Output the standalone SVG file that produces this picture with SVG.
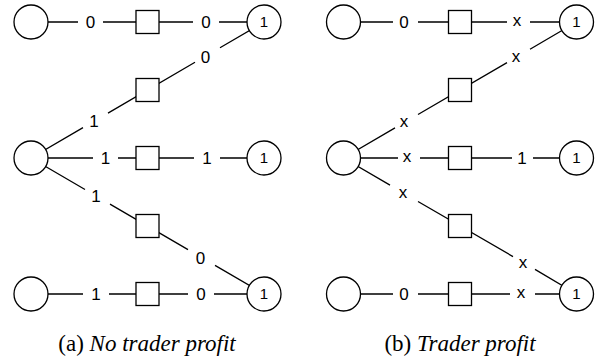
<svg xmlns="http://www.w3.org/2000/svg" width="605" height="364" viewBox="0 0 605 364">
<style>
.e{stroke:#000;stroke-width:1.3;fill:none}
.c{fill:#fff;stroke:#000;stroke-width:1.3}
.s{fill:#fff;stroke:#000;stroke-width:1.3}
.l{font-family:"Liberation Sans",Arial,sans-serif;font-size:17px;text-anchor:middle;fill:#000}
.n{font-family:"Liberation Sans",Arial,sans-serif;font-size:15px;text-anchor:middle;fill:#000}
.cap{font-family:"Liberation Serif","Times New Roman",serif;font-size:23px;text-anchor:middle;fill:#000}
</style>
<rect width="605" height="364" fill="#fff"/>
<g id="connectors">
<!-- panel a -->
<path class="e" d="M31 22H78M103 22H193M219 22H264"/>
<path class="e" d="M31 158H93M118 158H194M220 158H264"/>
<path class="e" d="M31 294H83M109 294H188M214 294H264"/>
<path class="e" d="M31 158L83 127.6M108 113.1L195 62.3M220 47.7L264 22"/>
<path class="e" d="M31 158L85 189.5M110 204.1L188 249.6M215 265.4L264 294"/>
<text class="l" x="90.5" y="28.1">0</text>
<text class="l" x="206" y="28.1">0</text>
<text class="l" x="105.5" y="164.1">1</text>
<text class="l" x="207" y="164.1">1</text>
<text class="l" x="96" y="300.1">1</text>
<text class="l" x="201" y="300.1">0</text>
<text class="l" x="94" y="127.1">1</text>
<text class="l" x="205.5" y="62.6">0</text>
<text class="l" x="96" y="202.1">1</text>
<text class="l" x="200.5" y="264.1">0</text>
<!-- panel b -->
<path class="e" d="M343.5 22H393M418 22H507M530 22H576.5"/>
<path class="e" d="M343.5 158H398M420 158H512M533 158H576.5"/>
<path class="e" d="M343.5 294H393M418 294H510M535 294H576.5"/>
<path class="e" d="M343.5 158L395 127.9M418 114.5L507 62.6M530 49.2L576.5 22"/>
<path class="e" d="M343.5 158L390 185.1M418 201.5L513 256.6M535 269.4L576.5 294"/>
<text class="l" x="404" y="28.1">0</text>
<text class="l" x="517" y="26.4">x</text>
<text class="l" x="407" y="162.4">x</text>
<text class="l" x="522" y="164.1">1</text>
<text class="l" x="404" y="300.1">0</text>
<text class="l" x="521" y="298.4">x</text>
<text class="l" x="404" y="127.4">x</text>
<text class="l" x="516" y="62.4">x</text>
<text class="l" x="403" y="198.4">x</text>
<text class="l" x="523" y="268.4">x</text>
</g>
<g id="a-L1"><circle class="c" cx="31" cy="22" r="17"/></g>
<g id="a-S1"><rect class="s" x="136" y="10.5" width="23" height="23"/></g>
<g id="a-R1"><circle class="c" cx="264" cy="22" r="17"/><text class="n" x="264" y="27.4">1</text></g>
<g id="a-S2"><rect class="s" x="136" y="78.5" width="23" height="23"/></g>
<g id="a-L2"><circle class="c" cx="31" cy="158" r="17"/></g>
<g id="a-S3"><rect class="s" x="136" y="146.5" width="23" height="23"/></g>
<g id="a-R2"><circle class="c" cx="264" cy="158" r="17"/><text class="n" x="264" y="163.4">1</text></g>
<g id="a-S4"><rect class="s" x="136" y="214.5" width="23" height="23"/></g>
<g id="a-L3"><circle class="c" cx="31" cy="294" r="17"/></g>
<g id="a-S5"><rect class="s" x="136" y="282.5" width="23" height="23"/></g>
<g id="a-R3"><circle class="c" cx="264" cy="294" r="17"/><text class="n" x="264" y="299.4">1</text></g>
<g id="b-L1"><circle class="c" cx="343.5" cy="22" r="17"/></g>
<g id="b-S1"><rect class="s" x="448.5" y="10.5" width="23" height="23"/></g>
<g id="b-R1"><circle class="c" cx="576.5" cy="22" r="17"/><text class="n" x="576.5" y="27.4">1</text></g>
<g id="b-S2"><rect class="s" x="448.5" y="78.5" width="23" height="23"/></g>
<g id="b-L2"><circle class="c" cx="343.5" cy="158" r="17"/></g>
<g id="b-S3"><rect class="s" x="448.5" y="146.5" width="23" height="23"/></g>
<g id="b-R2"><circle class="c" cx="576.5" cy="158" r="17"/><text class="n" x="576.5" y="163.4">1</text></g>
<g id="b-S4"><rect class="s" x="448.5" y="214.5" width="23" height="23"/></g>
<g id="b-L3"><circle class="c" cx="343.5" cy="294" r="17"/></g>
<g id="b-S5"><rect class="s" x="448.5" y="282.5" width="23" height="23"/></g>
<g id="b-R3"><circle class="c" cx="576.5" cy="294" r="17"/><text class="n" x="576.5" y="299.4">1</text></g>
<g id="captions">
<text class="cap" x="147" y="351">(a) <tspan font-style="italic">No trader profit</tspan></text>
<text class="cap" x="460" y="351">(b) <tspan font-style="italic">Trader profit</tspan></text>
</g>
</svg>
